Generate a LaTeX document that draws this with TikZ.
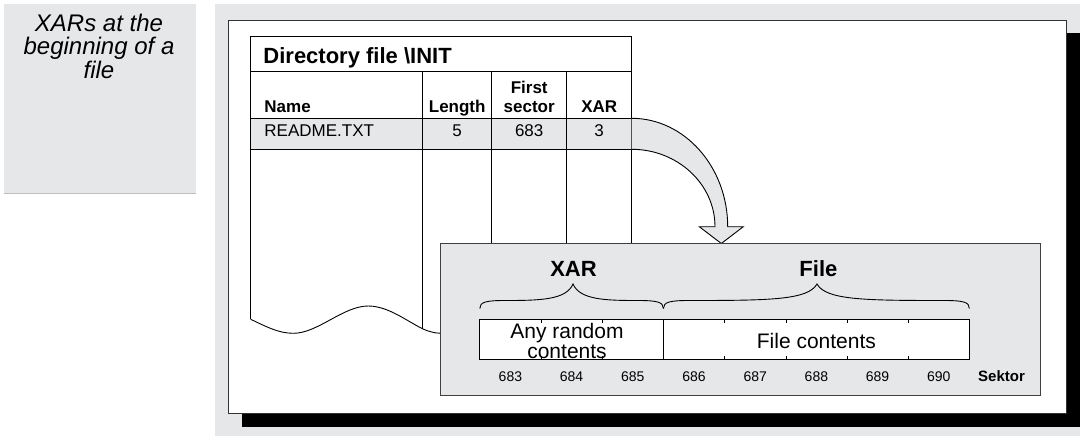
\documentclass[tikz,border=0pt]{standalone}
\usepackage{fontspec}
\setmainfont{Liberation Sans}
\definecolor{panel}{RGB}{230,231,233}
\begin{document}
\begin{tikzpicture}[x=1pt,y=-1pt,line width=0.9pt,
  lbl/.style={inner sep=0pt,anchor=base},
  lblw/.style={inner sep=0pt,anchor=base west},
  capt/.style={lbl,font=\fontsize{24}{24}\selectfont\itshape},
  hdr/.style={lbl,font=\fontsize{17}{20}\selectfont\bfseries},
  cell/.style={lbl,font=\fontsize{17}{20}\selectfont},
  big/.style={lbl,font=\fontsize{22}{24}\selectfont\bfseries},
  txt/.style={lbl,font=\fontsize{21}{22}\selectfont},
  num/.style={lbl,font=\fontsize{14}{16}\selectfont},
  tick/.style={line width=0.6pt},
  brace/.style={line width=0.9pt}]
\useasboundingbox (0,0) rectangle (1080,436);
% left caption panel
\fill[panel] (4,4) rectangle (196,193);
\draw[black!25,line width=1pt] (4,193) -- (196,193);
\node[capt] (cap1) at (99,31.7) {XARs at the};
\node[capt] (cap2) at (99,55) {beginning of a};
\node[capt] (cap3) at (99,78.3) {file};
% right background, shadow, white panel
\fill[panel] (215,4) rectangle (1080,436);
\fill[black] (242,33.5) rectangle (1080,426.7);
\filldraw[fill=white,draw=black!80,line width=1pt] (228.5,20.5) rectangle (1066.5,413.3);
% table
\fill[panel] (250.7,118.3) rectangle (631.7,149.3);
\begin{scope}
\clip (250.7,30) -- (250.7,319.3) .. controls (265,326) and (278,333.3) .. (293.3,333.3)
  .. controls (318,333.3) and (343,306) .. (368.3,306)
  .. controls (392,306) and (415,328) .. (430,331.5)
  .. controls (434,332.7) and (437,333.3) .. (440.7,333.3) -- (640,333.3) -- (640,30) -- cycle;
\draw (422.7,71.7) -- (422.7,340);
\draw (491.7,71.7) -- (491.7,300);
\draw (566.7,71.7) -- (566.7,300);
\end{scope}
\draw (250.7,319.3) -- (250.7,36) -- (631.7,36) -- (631.7,260);
\draw (250.7,319.3) .. controls (265,326) and (278,333.3) .. (293.3,333.3)
  .. controls (318,333.3) and (343,306) .. (368.3,306)
  .. controls (392,306) and (415,328) .. (430,331.5)
  .. controls (434,332.7) and (437,333.3) .. (440.7,333.3);
\draw (250.7,71.7) -- (631.7,71.7);
\draw (250.7,118.3) -- (631.7,118.3);
\draw (250.7,149.3) -- (631.7,149.3);
\node[lblw,font=\fontsize{22}{24}\selectfont\bfseries] (title) at (263,64) {Directory file \textbackslash INIT};
\node[hdr,anchor=base west] (hname) at (264,112.7) {Name};
\node[hdr] (hlen) at (457.2,112.7) {Length};
\node[hdr] (hfs1) at (529.2,93.3) {First};
\node[hdr] (hfs2) at (529.2,112.7) {sector};
\node[hdr] (hxar) at (599.2,112.7) {XAR};
\node[cell,anchor=base west] (rname) at (264,136.7) {README.TXT};
\node[cell] (rlen) at (457.2,136.7) {5};
\node[cell] (rfs) at (529.2,136.7) {683};
\node[cell] (rxar) at (599.2,136.7) {3};
% curved arrow
\coordinate (a1) at (631.7,118.3);
\coordinate (a2) at (631.7,149.3);
\coordinate (tip) at (721.3,243.5);
\filldraw[fill=panel,draw=black] (a1) .. controls (684.5,118.3) and (727.7,167) .. (727.7,226.7)
  -- (743.3,226.7) -- (tip) -- (699.3,226.7) -- (715,226.7)
  .. controls (715,184) and (677.5,149.3) .. (a2);
% inner box
\filldraw[fill=panel,draw=black!75,line width=1pt] (440.7,243.5) rectangle (1040.7,395.5);
\node[big] (lxar) at (573.5,276.7) {XAR};
\node[big] (lfile) at (818.4,276.7) {File};
\draw[brace] (479.8,308.5) .. controls (479.8,302) and (486,300.5) .. (505,300.5)
  .. controls (540,300.5) and (566,300) .. (573,284)
  .. controls (580,300) and (606,300.5) .. (638,300.5)
  .. controls (657,300.5) and (663.4,302) .. (663.4,308.5);
\draw[brace] (663.4,308.5) .. controls (663.4,302) and (670,300.5) .. (689,300.5)
  .. controls (770,300.5) and (808,300) .. (817,284)
  .. controls (826,300) and (864,300.5) .. (944,300.5)
  .. controls (963,300.5) and (969.4,302) .. (969.4,308.5);
\filldraw[fill=white,draw=black] (479.8,319.3) rectangle (969.4,359.3);
\draw (663.4,319.3) -- (663.4,359.3);
\foreach \x in {541,602.2,724.6,785.8,847,908.2}{
  \draw[tick] (\x,319.3) -- (\x,322.5);
  \draw[tick] (\x,359.3) -- (\x,356.1);
}
\node[txt] (any1) at (567,338.5) {Any random};
\node[txt] (any2) at (567,358.3) {contents};
\node[txt] (fc) at (816.4,348) {File contents};
\foreach \n [count=\i from 0] in {683,684,685,686,687,688,689,690}{
  \node[num] (s\n) at (510.4+61.2*\i,381.5) {\n};
}
\node[lblw,font=\fontsize{15}{16}\selectfont\bfseries] (sektor) at (977.7,381.5) {Sektor};
\end{tikzpicture}
\end{document}
